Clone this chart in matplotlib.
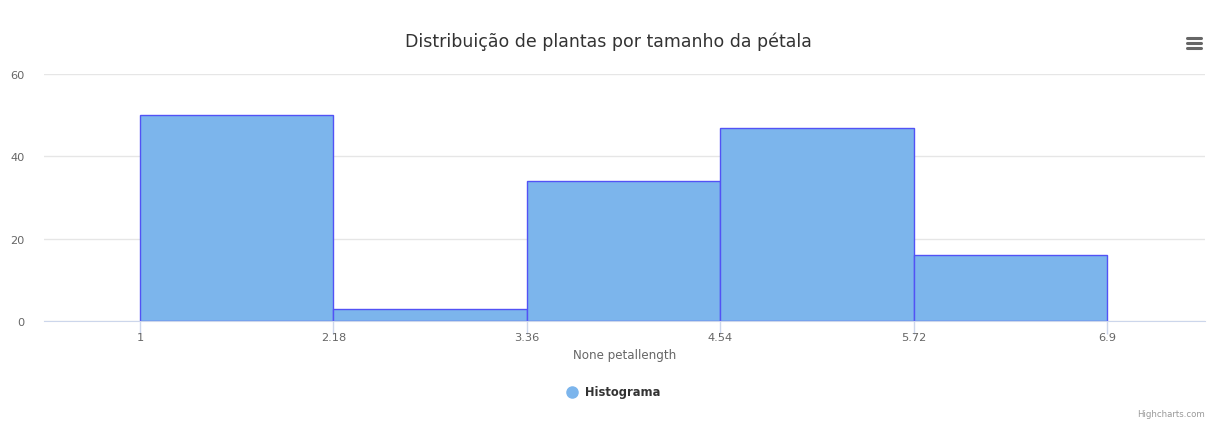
import matplotlib.pyplot as plt
from matplotlib.lines import Line2D

# histogram data
bin_edges = [1, 2.18, 3.36, 4.54, 5.72, 6.9]
counts = [50, 3, 34, 47, 16]
edge_labels = ['1', '2.18', '3.36', '4.54', '5.72', '6.9']
y_ticks = [0, 20, 40, 60]

W, H = 1216, 431
fig = plt.figure(figsize=(W / 100, H / 100), dpi=100)
plt.rcParams['font.family'] = ['DejaVu Sans']

ax = fig.add_axes([44 / W, 1 - 322 / H, (1205 - 44) / W, (322 - 75) / H])

widths = [bin_edges[i + 1] - bin_edges[i] for i in range(len(counts))]
ax.bar(bin_edges[:-1], counts, width=widths, align='edge',
       color='#7cb5ec', edgecolor='#5252f5', linewidth=1, zorder=3)

ax.set_xlim(0.414, 7.498)
ax.set_ylim(0, 60)
ax.set_yticks(y_ticks)
ax.set_yticklabels([str(v) for v in y_ticks])
ax.set_xticks(bin_edges)
ax.set_xticklabels(edge_labels)

ax.grid(axis='y', color='#e6e6e6', linewidth=1, zorder=0)
for s in ['top', 'right', 'left']:
    ax.spines[s].set_visible(False)
ax.spines['bottom'].set_color('#ccd6eb')
ax.spines['bottom'].set_zorder(4)

ax.tick_params(axis='y', length=0, pad=14, labelsize=8.2, labelcolor='#666666')
ax.tick_params(axis='x', length=9, width=1, color='#ccd6eb', pad=-1,
               labelsize=8.2, labelcolor='#666666')
for lbl in ax.get_yticklabels():
    lbl.set_horizontalalignment('right')

ax.set_xlabel('None petallength', fontsize=8.6, color='#666666', labelpad=4)

fig.text(0.5, 1 - 42 / H, 'Distribuição de plantas por tamanho da pétala',
         ha='center', va='center', fontsize=12.5, color='#333333')

# legend
fig.add_artist(Line2D([572 / W], [1 - 393 / H], marker='o', markersize=8,
                      color='#7cb5ec', linestyle='none'))
fig.text(585 / W, 1 - 393 / H, 'Histograma', ha='left', va='center',
         fontsize=8.3, fontweight='bold', color='#333333')

# credits
fig.text(1205 / W, 1 - 415 / H, 'Highcharts.com', ha='right', va='center',
         fontsize=6.2, color='#999999')

# menu icon
for yy in [39, 44, 49]:
    fig.add_artist(Line2D([1187 / W, 1201 / W], [1 - yy / H, 1 - yy / H],
                          color='#666666', linewidth=2.2, solid_capstyle='round'))

fig.savefig('out.png', dpi=100)
